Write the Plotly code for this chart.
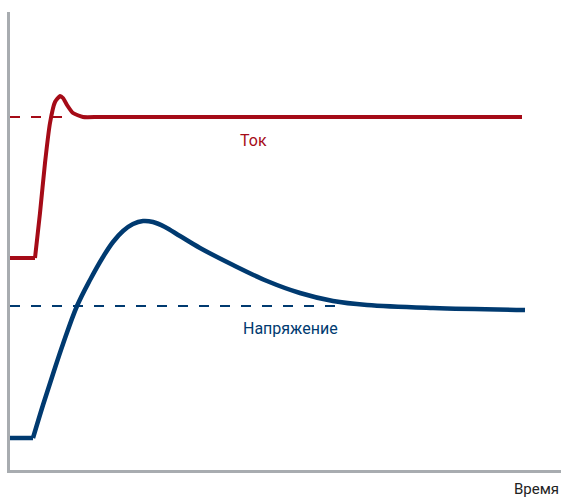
import plotly.graph_objects as go

# Time axis (arbitrary units) and signal values
current_time = [0, 25, 30, 35, 40, 45, 50, 53, 57, 63, 73, 90, 512]
current_vals = [212, 212, 257, 307, 347, 368, 374, 372, 365, 357, 353, 353, 353]

voltage_time = [0, 23, 33, 43, 53, 67, 80, 93, 103, 113, 123, 133, 143, 155, 170, 190, 223, 257, 290, 323, 357, 423, 515]
voltage_vals = [32, 32, 65, 96, 126, 164, 190, 213, 228, 239, 246, 249, 248, 243, 234, 222, 205, 189, 177, 169, 165, 162, 160]

current_ref_time = [0, 53]
current_ref_vals = [353, 353]
voltage_ref_time = [0, 330]
voltage_ref_vals = [164, 164]

RED = "#a50b17"
BLUE = "#003a70"

fig = go.Figure()
fig.add_trace(go.Scatter(x=current_ref_time, y=current_ref_vals, mode="lines",
                         line=dict(color=RED, width=1.8, dash="10px,11px"), hoverinfo="skip"))
fig.add_trace(go.Scatter(x=voltage_ref_time, y=voltage_ref_vals, mode="lines",
                         line=dict(color=BLUE, width=1.8, dash="10px,11px"), hoverinfo="skip"))
# flat starting segments (sharp corners)
fig.add_trace(go.Scatter(x=current_time[:2], y=current_vals[:2], mode="lines",
                         line=dict(color=RED, width=4)))
fig.add_trace(go.Scatter(x=voltage_time[:2], y=voltage_vals[:2], mode="lines",
                         line=dict(color=BLUE, width=4.5)))
# transient curves
fig.add_trace(go.Scatter(x=current_time[1:], y=current_vals[1:], mode="lines",
                         line=dict(color=RED, width=4, shape="spline", smoothing=0.5)))
fig.add_trace(go.Scatter(x=voltage_time[1:], y=voltage_vals[1:], mode="lines",
                         line=dict(color=BLUE, width=4.5, shape="spline", smoothing=1.0)))

font_family = "Liberation Sans Narrow, Roboto, Arial"
fig.add_annotation(x=243, y=330, text="Ток", showarrow=False,
                   font=dict(family=font_family, size=16, color=RED), xanchor="center", yanchor="middle")
fig.add_annotation(x=231, y=142, text="Напряжение", showarrow=False,
                   font=dict(family=font_family, size=16, color=BLUE), xanchor="left", yanchor="middle")
fig.add_annotation(x=1, y=0, xref="paper", yref="paper", yshift=-8, text="Время", showarrow=False,
                   font=dict(family=font_family, size=15, color="#222222"), xanchor="right", yanchor="top")

fig.update_layout(
    width=561, height=497,
    margin=dict(l=10, r=0, t=12, b=27),
    plot_bgcolor="white", paper_bgcolor="white",
    showlegend=False,
    xaxis=dict(range=[0, 551], showgrid=False, zeroline=False, showticklabels=False, ticks="",
               showline=True, linecolor="#a8acb0", linewidth=3),
    yaxis=dict(range=[0, 458], showgrid=False, zeroline=False, showticklabels=False, ticks="",
               showline=True, linecolor="#a8acb0", linewidth=3),
)
fig.write_html("out.html", config={"displayModeBar": False},
               post_script="document.body.style.margin='0';document.body.style.overflow='hidden';")
